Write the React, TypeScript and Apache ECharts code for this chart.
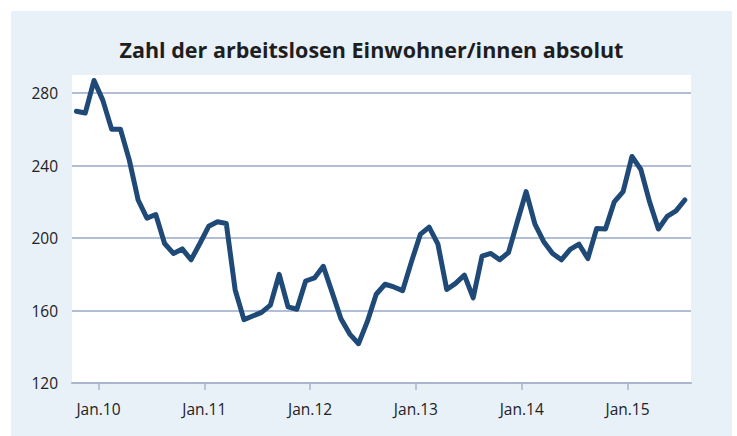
import React, { useEffect, useRef } from "react";
import * as echarts from "echarts";

const months: string[] = [
  "2009-10", "2009-11", "2009-12",
  "2010-01", "2010-02", "2010-03", "2010-04", "2010-05", "2010-06", "2010-07", "2010-08", "2010-09", "2010-10", "2010-11", "2010-12",
  "2011-01", "2011-02", "2011-03", "2011-04", "2011-05", "2011-06", "2011-07", "2011-08", "2011-09", "2011-10", "2011-11", "2011-12",
  "2012-01", "2012-02", "2012-03", "2012-04", "2012-05", "2012-06", "2012-07", "2012-08", "2012-09", "2012-10", "2012-11", "2012-12",
  "2013-01", "2013-02", "2013-03", "2013-04", "2013-05", "2013-06", "2013-07", "2013-08", "2013-09", "2013-10", "2013-11", "2013-12",
  "2014-01", "2014-02", "2014-03", "2014-04", "2014-05", "2014-06", "2014-07", "2014-08", "2014-09", "2014-10", "2014-11", "2014-12",
  "2015-01", "2015-02", "2015-03", "2015-04", "2015-05", "2015-06", "2015-07",
];

const values: number[] = [
  270, 269, 287,
  276, 260, 260, 243, 221, 211, 213, 197, 191.5, 194, 188, 197,
  206.5, 209, 208, 171.5, 155, 157, 159, 163, 180, 162, 160.7, 176.3,
  178, 184.4, 170, 155.5, 147, 141.7, 154, 169, 174.5, 173, 171, 187,
  202, 206, 196.6, 171.6, 175, 179.5, 167, 190, 191.5, 188, 192, 209,
  225.6, 207.7, 198, 191.5, 188, 193.7, 196.6, 188.7, 205.3, 205, 220, 225.6,
  245, 238, 220, 205, 212, 215, 221,
];

// January positions (between December and January data points)
const tickLabels: string[] = ["Jan.10", "Jan.11", "Jan.12", "Jan.13", "Jan.14", "Jan.15"];
const tickMonths: string[] = ["2010-01", "2011-01", "2012-01", "2013-01", "2014-01", "2015-01"];

const title = "Zahl der arbeitslosen Einwohner/innen absolut";

export default function App() {
  const ref = useRef<HTMLDivElement>(null);

  useEffect(() => {
    if (!ref.current) return;
    const chart = echarts.init(ref.current, undefined, { renderer: "svg" });
    const tickValues = tickMonths.map((m) => months.indexOf(m) - 0.5);
    chart.setOption({
      animation: false,
      backgroundColor: "#e8f0f8",
      title: {
        text: title,
        left: "center",
        top: 22,
        textStyle: {
          fontFamily: "'Open Sans', sans-serif",
          fontWeight: "bold",
          fontSize: 21.5,
          color: "#1e1e1e",
        },
      },
      grid: {
        left: 61,
        top: 64,
        right: 41,
        bottom: 53,
        show: true,
        backgroundColor: "#ffffff",
        borderWidth: 0,
      },
      xAxis: {
        type: "value",
        min: -0.5,
        max: 69.7,
        axisLine: { show: true, lineStyle: { color: "#a9b6cd", width: 2 } },
        axisTick: {
          show: true,
          length: 7,
          customValues: tickValues,
          lineStyle: { color: "#a9b6cd", width: 1.5 },
        },
        axisLabel: {
          customValues: tickValues,
          margin: 18,
          fontFamily: "'Open Sans', sans-serif",
          fontSize: 15.5,
          color: "#222222",
          formatter: (v: number) => {
            const idx = tickValues.findIndex((t) => Math.abs(t - v) < 0.01);
            return idx >= 0 ? tickLabels[idx] : "";
          },
        },
        splitLine: { show: false },
      },
      yAxis: {
        type: "value",
        min: 120,
        max: 290,
        interval: 40,
        axisLine: { show: false },
        axisTick: { show: false },
        axisLabel: {
          margin: 14,
          fontFamily: "'Open Sans', sans-serif",
          fontSize: 15.5,
          color: "#222222",
          showMaxLabel: false,
        },
        splitLine: {
          show: true,
          showMinLine: false,
          showMaxLine: false,
          lineStyle: { color: "#97a9c8", width: 1.5 },
        },
      },
      series: [
        {
          type: "line",
          data: values.map((v, i) => [i, v]),
          symbol: "none",
          lineStyle: { color: "#1f4a78", width: 5, cap: "round", join: "round" },
          silent: true,
        },
      ],
    });
    return () => chart.dispose();
  }, []);

  return (
    <div style={{ position: "absolute", left: 0, top: 0, width: 737, height: 436, background: "#ffffff", overflow: "hidden" }}>
      <div ref={ref} style={{ position: "absolute", left: 11, top: 11, width: 721, height: 425 }} />
    </div>
  );
}
